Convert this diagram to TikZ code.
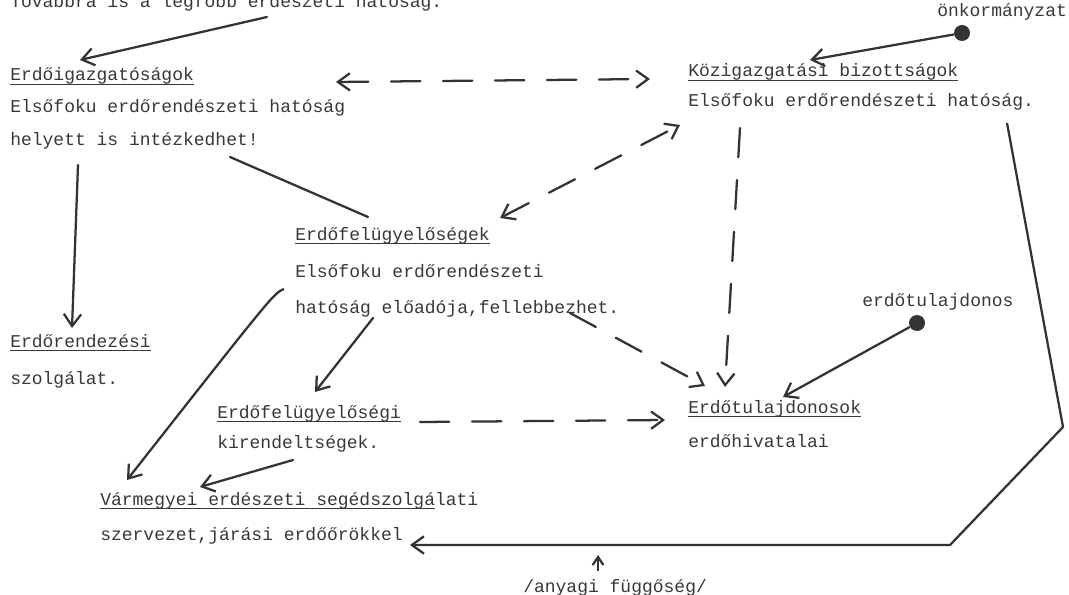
\documentclass[tikz,border=0pt]{standalone}
\usepackage{fontspec}
\setmonofont{Liberation Mono}
\usepackage{tikz}
\usepackage{tkz-euclide}
\usetikzlibrary{calc}
\usetikzlibrary{arrows.meta}

\newcommand{\typefont}{\ttfamily\fontsize{13.5}{16}\selectfont}
\newcommand{\ulword}[1]{\setbox0=\hbox{#1}\rlap{\rule[-2.8pt]{\wd0}{0.8pt}}\box0}

\tikzset{
  typed/.style={anchor=base west, inner sep=0pt, font=\typefont, text=black!78},
  solidline/.style={line width=1.7pt, draw=black!80},
  dashline/.style={solidline, dash pattern=on 22pt off 17pt},
  dotnode/.style={circle, fill=black!80, inner sep=0pt, minimum size=12pt},
}

\begin{document}
\begin{tikzpicture}[%
  >={Straight Barb[length=9pt,width=13pt]},
  x=0.75pt, y=-0.75pt,
]

  \clip (0,0) rectangle (1069,595);

  \node[typed] (top) at (10,8) {Továbbra is a legfőbb erdészeti hatóság.};
  \node[typed] (igaz) at (10,81) {\ulword{Erdőigazgatóságok}};
  \node[typed] (igaz2) at (10,113) {Elsőfoku erdőrendészeti hatóság};
  \node[typed] (igaz3) at (10,146) {helyett is intézkedhet!};
  \node[typed] (kozig) at (688,77) {\ulword{Közigazgatási bizottságok}};
  \node[typed] (kozig2) at (688,107) {Elsőfoku erdőrendészeti hatóság.};
  \node[typed] (onk) at (937,17) {önkormányzat};
  \node[typed] (felugy) at (295,240) {\ulword{Erdőfelügyelőségek}};
  \node[typed] (felugy2) at (295,277) {Elsőfoku erdőrendészeti};
  \node[typed] (felugy3) at (295,313) {hatóság előadója,fellebbezhet.};
  \node[typed] (rendez) at (10,347) {\ulword{Erdőrendezési}};
  \node[typed] (rendez2) at (10,384) {szolgálat.};
  \node[typed] (kirend) at (217,418) {\ulword{Erdőfelügyelőségi}};
  \node[typed] (kirend2) at (217,448) {kirendeltségek.};
  \node[typed] (tulajlab) at (862,306) {erdőtulajdonos};
  \node[typed] (tulaj) at (688,413) {\ulword{Erdőtulajdonosok}};
  \node[typed] (tulaj2) at (688,447) {erdőhivatalai};
  \node[typed] (varm) at (100,505) {\ulword{Vármegyei erdészeti segédszolgá}lati};
  \node[typed] (varm2) at (100,540) {szervezet,járási erdőőrökkel};
  \node[typed] (anyagi) at (523,592) {/anyagi függőség/};

  \node[dotnode] (onkdot) at (962,33) {};
  \node[dotnode] (tulajdot) at (917,323) {};

  \tkzDefPoint(267,17){t0}
  \tkzDefPoint(80,60){t1}
  \tkzDefPoint(336,82){h0}
  \tkzDefPoint(650,79){h1}
  \tkzDefPoint(78,165){r0}
  \tkzDefPoint(72,328){r1}
  \tkzDefPoint(230,157){s0}
  \tkzDefPoint(368,217){s1}
  \tkzDefPoint(500,218){d0}
  \tkzDefPoint(680,125){d1}
  \tkzDefPoint(740,128){k0}
  \tkzDefPoint(725,387){k1}
  \tkzDefPoint(570,313){f0}
  \tkzDefPoint(705,386){f1}
  \tkzDefPoint(420,422){e0}
  \tkzDefPoint(665,420){e1}
  \tkzDefPoint(810,60){o1}
  \tkzDefPoint(783,397){u1}
  \tkzDefPoint(373,318){g0}
  \tkzDefPoint(315,392){g1}
  \tkzDefPoint(284,289){c0}
  \tkzDefPoint(127,480){c1}
  \tkzDefPoint(293,460){m0}
  \tkzDefPoint(200,487){m1}
  \tkzDefPoint(1007,123){p0}
  \tkzDefPoint(1063,427){p1}
  \tkzDefPoint(950,545){p2}
  \tkzDefPoint(410,545){p3}
  \tkzDefPoint(598,571){a0}
  \tkzDefPoint(598,555){a1}

  \tkzDrawSegments[solidline,->](t0,t1 r0,r1 g0,g1 m0,m1)
  \tkzDrawSegments[solidline](s0,s1)
  \tkzDrawSegments[dashline,<->](h0,h1 d0,d1)
  \tkzDrawSegments[dashline,->](k0,k1 f0,f1 e0,e1)

  \draw[solidline,->] (onkdot) -- (o1);
  \draw[solidline,->] (tulajdot) -- (u1);
  \draw[solidline,->] (c0) .. controls (274,293) .. (c1);
  \draw[solidline,->] (p0) -- (p1) -- (p2) -- (p3);
  \draw[solidline,-{Straight Barb[length=6pt,width=8pt]}] (a0) -- (a1);

\end{tikzpicture}
\end{document}
